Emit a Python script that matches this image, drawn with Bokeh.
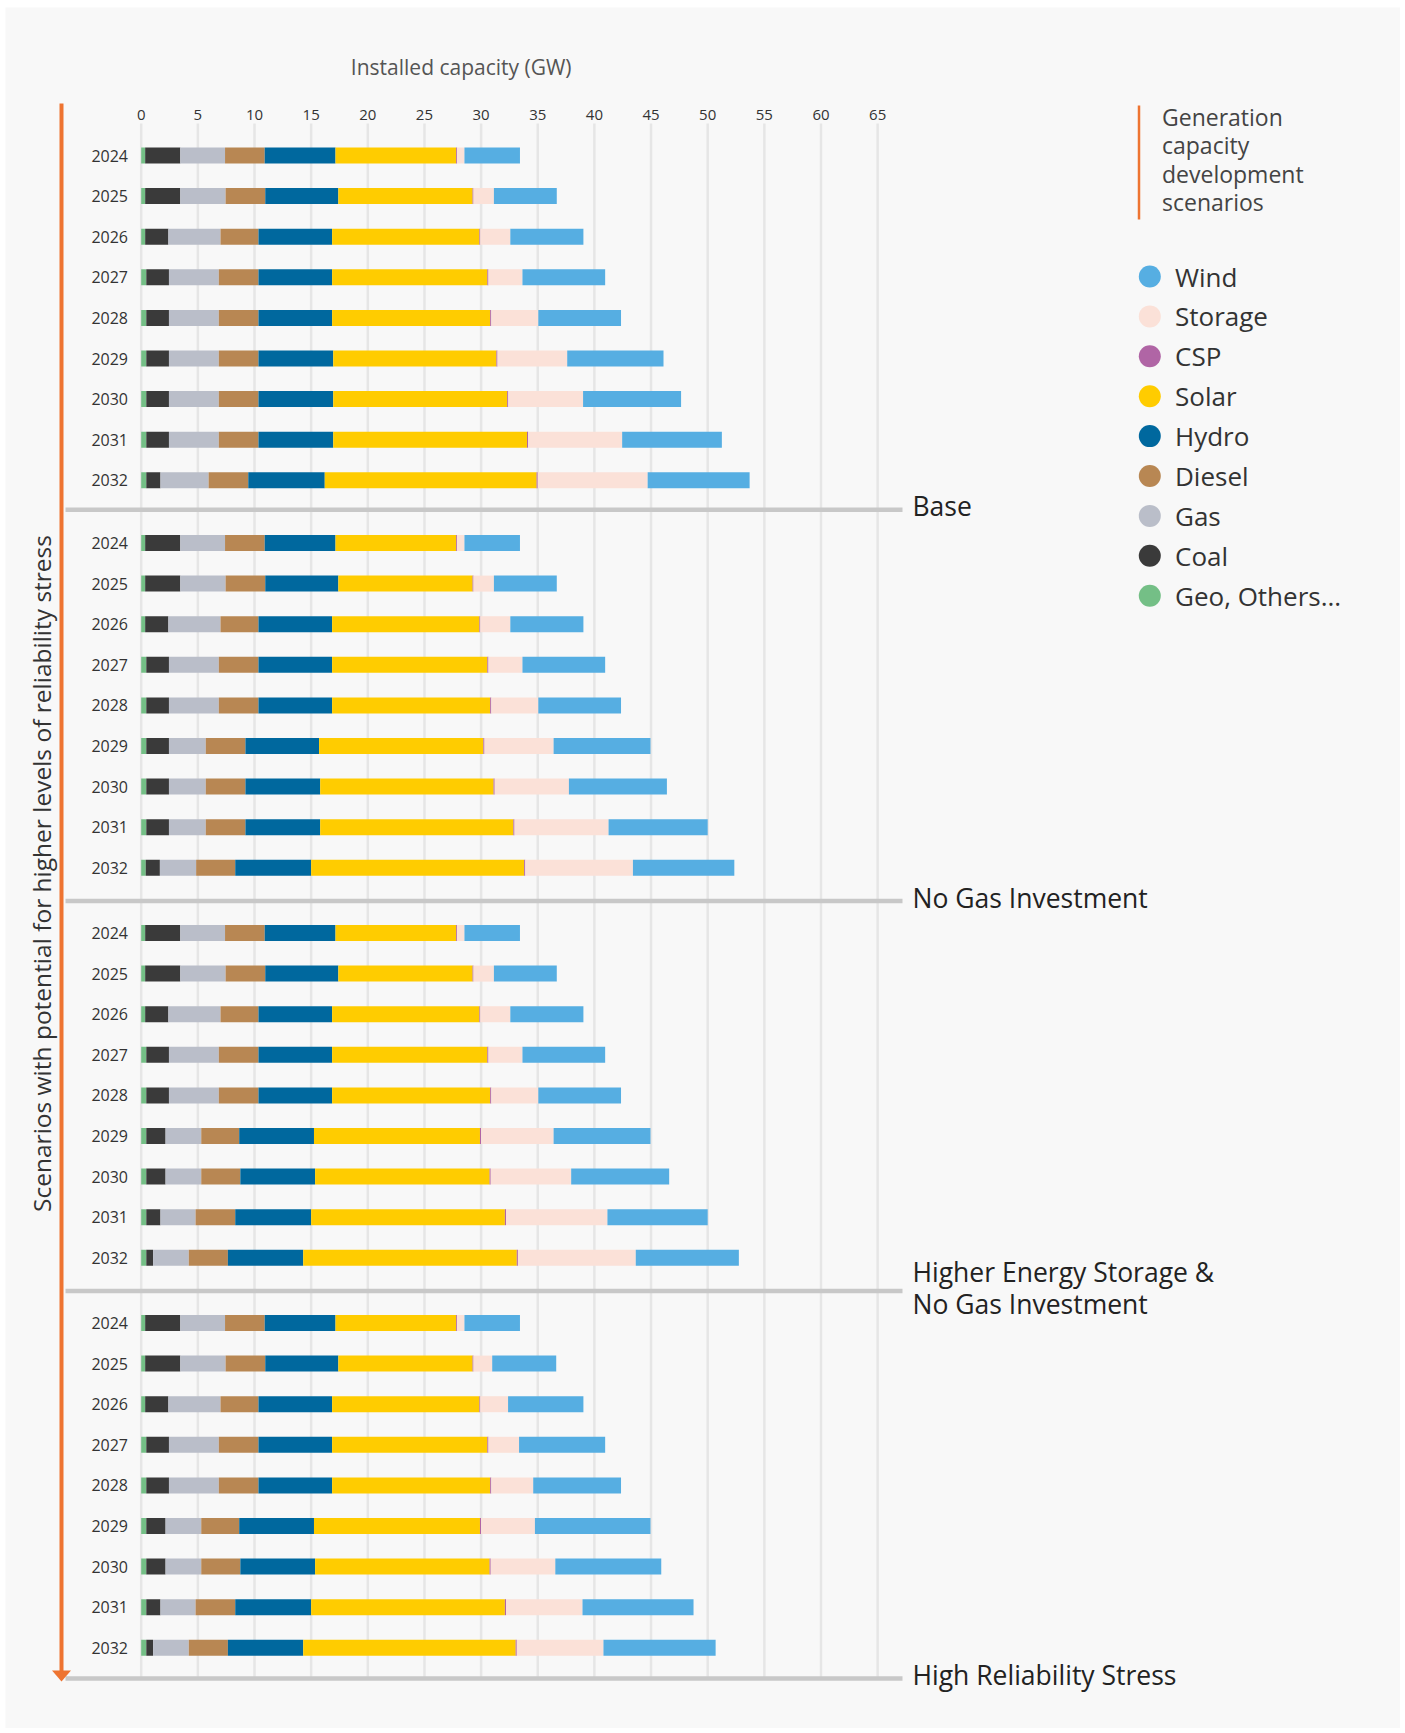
import math
from bokeh.plotting import figure
from bokeh.models import ColumnDataSource, Range1d, Label, Arrow, PolyAnnotation
from bokeh.core.properties import value
from bokeh.embed import file_html
from bokeh.resources import INLINE

# ---------------- data ----------------
SCENARIOS = ["Base", "No Gas Investment", "Higher Energy Storage &\nNo Gas Investment", "High Reliability Stress"]
YEARS = ["2024", "2025", "2026", "2027", "2028", "2029", "2030", "2031", "2032"]
TICKS = [0, 5, 10, 15, 20, 25, 30, 35, 40, 45, 50, 55, 60, 65]

TECH_KEYS = ["geo", "coal", "gas", "diesel", "hydro", "solar", "csp", "storage", "wind"]
TECH_LABELS = ["Geo, Others...", "Coal", "Gas", "Diesel", "Hydro", "Solar", "CSP", "Storage", "Wind"]
TECH_COLORS = ["#74bf86", "#3a3a3a", "#babec9", "#b88753", "#00689e", "#ffcc00", "#b065a5", "#fbe1d8", "#56aee2"]

# installed capacity (GW), per scenario block of 9 years (2024..2032)
GEO = [0.35, 0.35, 0.35, 0.45, 0.45, 0.45, 0.45, 0.45, 0.45,
       0.35, 0.35, 0.35, 0.45, 0.45, 0.45, 0.45, 0.45, 0.40,
       0.35, 0.35, 0.35, 0.45, 0.45, 0.45, 0.45, 0.45, 0.45,
       0.35, 0.35, 0.35, 0.45, 0.45, 0.45, 0.45, 0.45, 0.45]
COAL = [3.10, 3.10, 2.05, 2.00, 2.00, 2.00, 2.00, 2.00, 1.25,
        3.10, 3.10, 2.05, 2.00, 2.00, 2.00, 2.00, 2.00, 1.25,
        3.10, 3.10, 2.05, 2.00, 2.00, 1.70, 1.70, 1.25, 0.60,
        3.10, 3.10, 2.05, 2.00, 2.00, 1.70, 1.70, 1.25, 0.60]
GAS = [3.95, 4.00, 4.60, 4.40, 4.40, 4.40, 4.40, 4.40, 4.25,
       3.95, 4.00, 4.60, 4.40, 4.40, 3.25, 3.25, 3.25, 3.20,
       3.95, 4.00, 4.60, 4.40, 4.40, 3.15, 3.15, 3.10, 3.15,
       3.95, 4.00, 4.60, 4.40, 4.40, 3.15, 3.15, 3.10, 3.15]
DIESEL = [3.50, 3.50, 3.35, 3.50, 3.50, 3.50, 3.50, 3.50, 3.50,
          3.50, 3.50, 3.35, 3.50, 3.50, 3.50, 3.50, 3.50, 3.45,
          3.50, 3.50, 3.35, 3.50, 3.50, 3.35, 3.45, 3.50, 3.45,
          3.50, 3.50, 3.35, 3.50, 3.50, 3.35, 3.45, 3.50, 3.45]
HYDRO = [6.25, 6.45, 6.50, 6.50, 6.50, 6.60, 6.60, 6.60, 6.75,
         6.25, 6.45, 6.50, 6.50, 6.50, 6.50, 6.60, 6.60, 6.70,
         6.25, 6.45, 6.50, 6.50, 6.50, 6.60, 6.60, 6.70, 6.65,
         6.25, 6.45, 6.50, 6.50, 6.50, 6.60, 6.60, 6.70, 6.65]
SOLAR = [10.65, 11.85, 13.00, 13.70, 13.95, 14.40, 15.35, 17.10, 18.70,
         10.65, 11.85, 13.00, 13.70, 13.95, 14.50, 15.30, 17.05, 18.80,
         10.65, 11.85, 13.00, 13.70, 13.95, 14.65, 15.40, 17.10, 18.85,
         10.65, 11.85, 13.00, 13.70, 13.95, 14.65, 15.40, 17.10, 18.75]
CSP = [0.08, 0.08, 0.08, 0.10, 0.10, 0.10, 0.10, 0.10, 0.10,
       0.08, 0.08, 0.08, 0.10, 0.10, 0.10, 0.10, 0.10, 0.10,
       0.08, 0.08, 0.08, 0.10, 0.10, 0.10, 0.10, 0.10, 0.10,
       0.08, 0.08, 0.08, 0.10, 0.10, 0.10, 0.10, 0.10, 0.10]
STORAGE = [0.65, 1.80, 2.65, 3.00, 4.15, 6.15, 6.60, 8.30, 9.70,
           0.65, 1.80, 2.65, 3.00, 4.15, 6.10, 6.55, 8.30, 9.50,
           0.65, 1.80, 2.65, 3.00, 4.15, 6.40, 7.10, 8.95, 10.40,
           0.65, 1.65, 2.45, 2.70, 3.70, 4.75, 5.70, 6.75, 7.65]
WIND = [4.90, 5.55, 6.45, 7.30, 7.30, 8.50, 8.65, 8.80, 9.00,
        4.90, 5.55, 6.45, 7.30, 7.30, 8.55, 8.65, 8.75, 8.95,
        4.90, 5.55, 6.45, 7.30, 7.30, 8.55, 8.65, 8.85, 9.10,
        4.90, 5.65, 6.65, 7.60, 7.75, 10.20, 9.35, 9.80, 9.90]

SERIES = [GEO, COAL, GAS, DIESEL, HYDRO, SOLAR, CSP, STORAGE, WIND]

# ---------------- layout ----------------
W, H = 1400, 1728
PX_PER_GW = 11.33
X0_PX = 140.7            # page x of 0 GW
GRID_TOP, GRID_BOTTOM = 123, 1678
PANEL_FIRST = [155.0, 542.5, 932.5, 1322.5]   # page y of each block's first row
SEP_Y = [509.3, 900.5, 1290.5, 1678.0]        # page y of the separator under each block
ROW_STEP = 40.6
BAR_H = 16
ORANGE = "#ee7431"
FONT = "Open Sans"
PANEL_BG = "#f8f8f8"


def gx(px):
    """page pixel x -> GW data coordinate"""
    return (px - X0_PX) / PX_PER_GW


n_years = len(YEARS)
row_y, row_year = [], []
for k in range(len(SCENARIOS)):
    for i in range(n_years):
        row_y.append(PANEL_FIRST[k] + i * ROW_STEP)
        row_year.append(YEARS[i])

data = {"y": row_y, "year": row_year}
for key, vals in zip(TECH_KEYS, SERIES):
    data[key] = vals
src = ColumnDataSource(data)

p = figure(width=W, height=H, output_backend="svg", toolbar_location=None,
           x_range=Range1d(gx(0), gx(W)), y_range=Range1d(H, 0),
           x_axis_location=None, y_axis_location=None,
           min_border=0, min_border_left=0, min_border_right=0,
           min_border_top=0, min_border_bottom=0,
           background_fill_color="white", border_fill_color="white",
           outline_line_color=None)
p.xgrid.visible = False
p.ygrid.visible = False

# panel background
p.quad(left=gx(5), right=gx(W), top=7, bottom=H, color=PANEL_BG, line_color=None)

# vertical grid lines at the tick values
p.segment(x0=TICKS, x1=TICKS, y0=GRID_TOP, y1=GRID_BOTTOM, line_width=2.5, line_color="#e6e6e6")

# tick labels (top axis)
p.text(x=TICKS, y=[114.0] * len(TICKS), text=[str(t) for t in TICKS], text_align="center",
       text_baseline="middle", text_font=value(FONT), text_font_size="15px", text_color="#333333")

# separators between scenarios
p.segment(x0=gx(65), x1=gx(902), y0=SEP_Y, y1=SEP_Y, line_width=4.5, line_color="#c8c8c8")

# stacked bars
p.hbar_stack(stackers=TECH_KEYS, y="y", height=BAR_H, color=TECH_COLORS,
             line_color=None, source=src)

# year labels
p.text(x=gx(127.5), y="y", text="year", source=src, text_align="right", text_baseline="middle",
       text_font=value(FONT), text_font_size="16px", text_color="#333333")

# title
p.add_layout(Label(x=gx(460.7), y=66, text="Installed capacity (GW)", text_align="center",
                   text_baseline="alphabetic", text_font=FONT, text_font_size="21px",
                   text_color="#555555"))

# scenario labels
for k, name in enumerate(SCENARIOS):
    lines = name.split("\n")
    nl = len(lines)
    for j, ln in enumerate(lines):
        yy = SEP_Y[k] + (j - (nl - 1) / 2) * 32 - 3.5
        p.add_layout(Label(x=gx(912), y=yy, text=ln, text_align="left", text_baseline="alphabetic",
                           text_font=FONT, text_font_size="26.5px", text_color="#222222"))

# vertical arrow and its label
p.add_layout(Arrow(end=None, x_start=gx(61), y_start=103, x_end=gx(61), y_end=1671,
                   line_color=ORANGE, line_width=4))
p.add_layout(PolyAnnotation(xs=[gx(51.5), gx(70.5), gx(61)], ys=[1670, 1670, 1681],
                            fill_color=ORANGE, fill_alpha=1, line_color=None))
p.add_layout(Label(x=gx(41), y=873, text="Scenarios with potential for higher levels of reliability stress",
                   angle=math.pi / 2, text_align="center", text_baseline="middle",
                   text_font=FONT, text_font_size="24.5px", text_color="#333333"))

# legend header
p.add_layout(Arrow(end=None, x_start=gx(1138.5), y_start=105, x_end=gx(1138.5), y_end=219,
                   line_color=ORANGE, line_width=2.5))
for j, ln in enumerate(["Generation", "capacity", "development", "scenarios"]):
    p.add_layout(Label(x=gx(1161.5), y=116 + j * 28.6, text=ln, text_align="left",
                       text_baseline="alphabetic", text_font=FONT, text_font_size="23px",
                       text_color="#444444"))

# legend entries (reverse stack order)
leg_labels = TECH_LABELS[::-1]
leg_colors = TECH_COLORS[::-1]
leg_y = [276.0 + i * 39.9 for i in range(len(leg_labels))]
leg = ColumnDataSource(dict(x=[gx(1149.3)] * len(leg_labels), tx=[gx(1174.5)] * len(leg_labels),
                            y=leg_y, label=leg_labels, color=leg_colors))
p.scatter(x="x", y="y", size=22, color="color", line_color=None, source=leg)
p.text(x="tx", y="y", text="label", source=leg, text_baseline="middle", text_font=value(FONT),
       text_font_size="26px", text_color="#333333")

open("out.html", "w").write(file_html(p, INLINE))
